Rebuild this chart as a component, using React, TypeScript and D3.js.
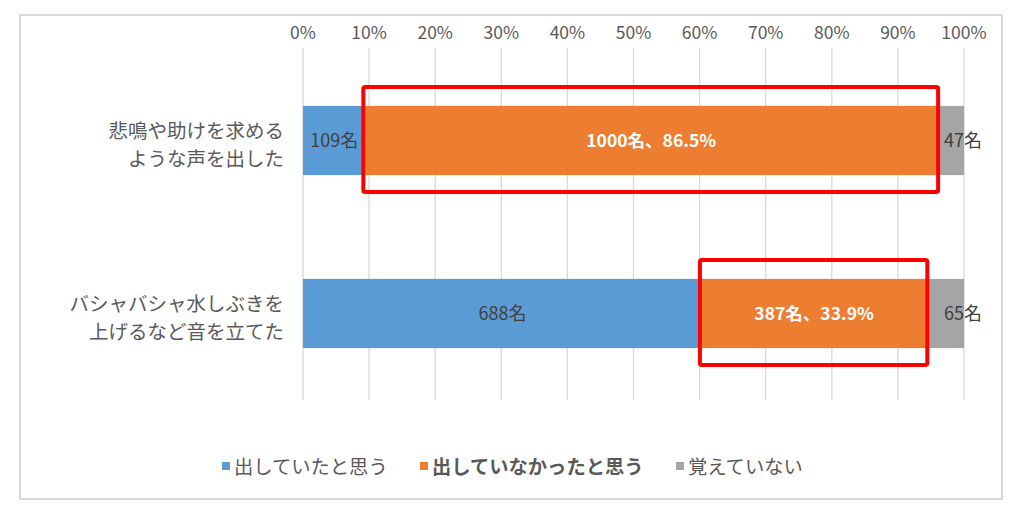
import * as d3 from "d3";

const categories = [
  ["悲鳴や助けを求める", "ような声を出した"],
  ["バシャバシャ水しぶきを", "上げるなど音を立てた"],
];
const seriesNames = ["出していたと思う", "出していなかったと思う", "覚えていない"];
const seriesColors = ["#5b9bd5", "#ed7d31", "#a5a5a5"];
// counts per category: [出していた, 出していなかった, 覚えていない]
const counts = [
  [109, 1000, 47],
  [688, 387, 65],
];
const tickValues = [0, 0.1, 0.2, 0.3, 0.4, 0.5, 0.6, 0.7, 0.8, 0.9, 1];

const W = 1023;
const H = 507;
const FONT = "'Noto Sans CJK JP', 'Noto Sans', sans-serif";

const App = () => {
  const x = d3.scaleLinear().domain([0, 1]).range([303, 964]);
  const y = d3
    .scaleBand<number>()
    .domain(d3.range(categories.length))
    .range([54, 400])
    .paddingInner(0.6)
    .paddingOuter(0.3);

  const stacked = counts.map((row) => {
    const total = d3.sum(row);
    let acc = 0;
    return row.map((v, i) => {
      const s = acc / total;
      acc += v;
      return { i, v, total, x0: s, x1: acc / total };
    });
  });

  const legendX = [222, 420, 676];

  return (
    <svg
      width={W}
      height={H}
      style={{ position: "absolute", left: 0, top: 0, background: "#fff" }}
      fontFamily={FONT}
    >
      <rect x={20} y={15} width={982} height={484} fill="#fff" stroke="#d9d9d9" strokeWidth={2} />

      {/* grid + ticks */}
      {tickValues.map((t) => (
        <g key={t}>
          <line x1={x(t)} x2={x(t)} y1={48} y2={400} stroke="#d9d9d9" strokeWidth={1.3} />
          <text
            x={x(t)}
            y={39}
            textAnchor="middle"
            fontSize={17.5}
            fill="#595959"
          >
            {d3.format(".0%")(t)}
          </text>
        </g>
      ))}

      {/* category labels */}
      {categories.map((lines, ci) => {
        const cy = (y(ci) as number) + y.bandwidth() / 2;
        return (
          <text key={ci} textAnchor="end" fontSize={19.5} fill="#595959">
            {lines.map((l, li) => (
              <tspan key={li} x={284} y={cy - 3 + li * 28}>
                {l}
              </tspan>
            ))}
          </text>
        );
      })}

      {/* bars */}
      {stacked.map((row, ci) => {
        const by = y(ci) as number;
        const bh = y.bandwidth();
        return (
          <g key={ci}>
            {row.map((d) => (
              <rect
                key={d.i}
                x={x(d.x0)}
                y={by}
                width={x(d.x1) - x(d.x0)}
                height={bh}
                fill={seriesColors[d.i]}
              />
            ))}
            {row.map((d) => {
              const cy = by + bh / 2 + 6.5;
              if (d.i === 1) {
                return (
                  <text
                    key={"l" + d.i}
                    x={(x(d.x0) + x(d.x1)) / 2}
                    y={cy}
                    textAnchor="middle"
                    fontSize={17.5}
                    fontWeight="bold"
                    fill="#ffffff"
                  >
                    {`${d.v}名、${((d.v / d.total) * 100).toFixed(1)}%`}
                  </text>
                );
              }
              return (
                <text
                  key={"l" + d.i}
                  x={d.i === 2 ? x(1) - 1 : (x(d.x0) + x(d.x1)) / 2}
                  y={cy}
                  textAnchor="middle"
                  fontSize={18}
                  fill="#404040"
                >
                  {`${d.v}名`}
                </text>
              );
            })}
            {/* red highlight box around the "not" segment */}
            <rect
              x={x(row[1].x0) - 2}
              y={by - 19}
              width={x(row[1].x1) - x(row[1].x0) + 3}
              height={bh + 36}
              fill="none"
              stroke="#ff0000"
              strokeWidth={4}
              rx={2}
            />
          </g>
        );
      })}

      {/* legend */}
      {seriesNames.map((name, i) => (
        <g key={name}>
          <rect x={legendX[i]} y={462} width={8} height={8} fill={seriesColors[i]} />
          <text
            x={legendX[i] + 12}
            y={474}
            fontSize={19.3}
            fill="#595959"
            fontWeight={i === 1 ? "bold" : "normal"}
          >
            {name}
          </text>
        </g>
      ))}
    </svg>
  );
};

export default App;
